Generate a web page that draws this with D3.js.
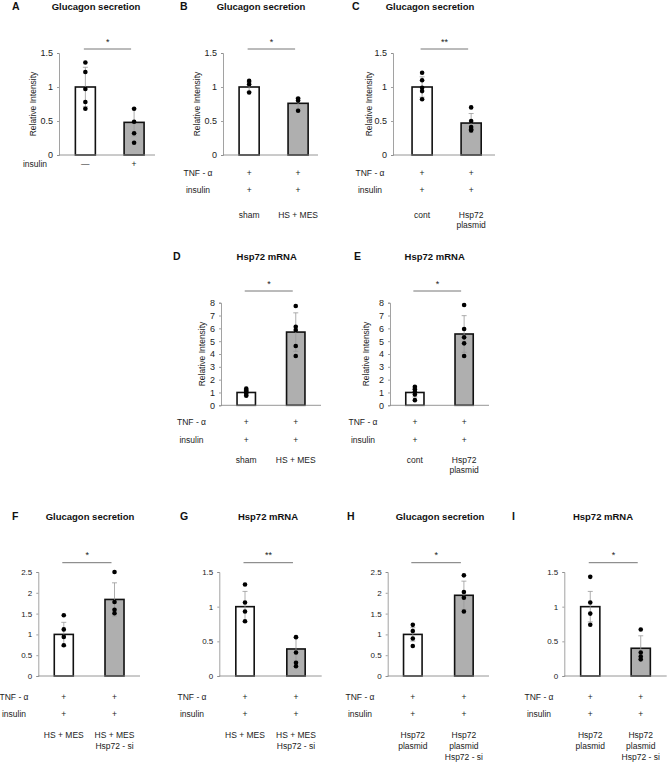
<!DOCTYPE html>
<html>
<head>
<meta charset="utf-8">
<script src="https://cdn.jsdelivr.net/npm/d3@7"></script>
<style>
  body { margin: 0; background: #fff; }
  svg { display: block; font-family: "Liberation Sans", Arial, sans-serif; opacity: 0.999; }
</style>
</head>
<body>
<svg id="fig" width="667" height="762"></svg>
<script>
"use strict";

// ---- data ----
const panelLetters = ["A", "B", "C", "D", "E", "F", "G", "H", "I"];
const panelTitles = ["Glucagon secretion", "Glucagon secretion", "Glucagon secretion",
    "Hsp72 mRNA", "Hsp72 mRNA",
    "Glucagon secretion", "Hsp72 mRNA", "Glucagon secretion", "Hsp72 mRNA"];

const barMeans = [[1.0, 0.48], [1.0, 0.76], [1.0, 0.47], [1.0, 5.71], [1.0, 5.56],
    [1.0, 1.84], [1.0, 0.39], [1.0, 1.94], [1.0, 0.40]];
const barSds = [[0.29, 0.2], [0.07, 0.08], [0.15, 0.14], [0.25, 1.5], [0.35, 1.43],
    [0.29, 0.40], [0.22, 0.17], [0.16, 0.34], [0.22, 0.18]];
const dotValues = [
    [[1.36, 1.22, 0.97, 0.78, 0.68], [0.68, 0.49, 0.32, 0.18]],
    [[1.09, 1.04, 0.92], [0.83, 0.80, 0.65]],
    [[1.21, 1.10, 0.99, 0.94, 0.82], [0.70, 0.50, 0.41, 0.38, 0.36]],
    [[1.3, 1.15, 1.05, 0.9, 0.75], [7.74, 6.13, 5.87, 4.62, 3.84]],
    [[1.45, 1.25, 1.05, 0.85, 0.4], [7.82, 5.95, 5.30, 4.83, 3.84]],
    [[1.46, 1.12, 0.94, 0.74], [2.50, 1.78, 1.59, 1.51]],
    [[1.32, 1.06, 0.93, 0.79], [0.56, 0.34, 0.19, 0.14]],
    [[1.23, 1.08, 0.90, 0.72], [2.42, 2.02, 1.88, 1.55]],
    [[1.43, 1.06, 0.90, 0.74], [0.67, 0.34, 0.28, 0.24]]
];

const ticks15 = [0, 0.5, 1, 1.5];
const ticks8 = [0, 1, 2, 3, 4, 5, 6, 7, 8];
const ticks25 = [0, 0.5, 1, 1.5, 2, 2.5];
const panelTicks = [ticks15, ticks15, ticks15, ticks8, ticks8, ticks25, ticks15, ticks25, ticks15];

const sigMarks = ["*", "*", "**", "*", "*", "*", "**", "*", "*"];
const yLabels = ["Relative Intensity", "Relative Intensity", "Relative Intensity",
    "Relative Intensity", "Relative Intensity", "", "", "", ""];

const treatRows = [["insulin"]].concat(d3.range(8).map(() => ["TNF - α", "insulin"]));
const treatSigns = [[["—", "+"]]].concat(d3.range(8).map(() => [["+", "+"], ["+", "+"]]));
const groupLabels = [
    [[], []],
    [["sham"], ["HS + MES"]],
    [["cont"], ["Hsp72", "plasmid"]],
    [["sham"], ["HS + MES"]],
    [["cont"], ["Hsp72", "plasmid"]],
    [["HS + MES"], ["HS + MES", "Hsp72 - si"]],
    [["HS + MES"], ["HS + MES", "Hsp72 - si"]],
    [["Hsp72", "plasmid"], ["Hsp72", "plasmid", "Hsp72 - si"]],
    [["Hsp72", "plasmid"], ["Hsp72", "plasmid", "Hsp72 - si"]]
];

// ---- layout of each panel ----
const top1 = {y0: 155, y1: 53, titleY: 9.5, rowY: [173, 190], groupY: 215, gap: 10, tickFs: 9, sigY: 49};
const mid1 = {y0: 405.3, y1: 302.7, titleY: 259.5, rowY: [422.5, 440], groupY: 460, gap: 10.5, tickFs: 9, sigY: 291};
const bot1 = {y0: 676, y1: 572, titleY: 519.5, rowY: [696.7, 714], groupY: 735, gap: 11, tickFs: 8, sigY: 562.7};

const frames = [
    Object.assign({}, top1, {ax: 59, ex: 155, pi: 0.59, po: 0.28, al: 0.6, letterX: 12, titleX: 96, ylabX: 33, rowX: 35, rowY: [164]}),
    Object.assign({}, top1, {ax: 223, ex: 318, pi: 0.59, po: 0.265, al: 0.62, letterX: 180, titleX: 261, ylabX: 197, rowX: 198}),
    Object.assign({}, top1, {ax: 393, ex: 495, pi: 0.59, po: 0.335, al: 0.58, letterX: 352, titleX: 430, ylabX: 369, rowX: 370}),
    Object.assign({}, mid1, {ax: 221, ex: 321, pi: 0.628, po: 0.324, al: 0.5, letterX: 173, titleX: 266.7, ylabX: 201.7, rowX: 191.5}),
    Object.assign({}, mid1, {ax: 390, ex: 489, pi: 0.63, po: 0.32, al: 0.5, letterX: 354, titleX: 434.7, ylabX: 365.7, rowX: 363}),
    Object.assign({}, bot1, {ax: 38.3, ex: 140, pi: 0.625, po: 0.315, al: 0.5, letterX: 12, titleX: 90, rowX: 14}),
    Object.assign({}, bot1, {ax: 219.3, ex: 321.7, pi: 0.64, po: 0.324, al: 0.5, letterX: 180, titleX: 268, rowX: 192}),
    Object.assign({}, bot1, {ax: 387.7, ex: 489, pi: 0.637, po: 0.31, al: 0.5, letterX: 347, titleX: 440, rowX: 360}),
    Object.assign({}, bot1, {ax: 564.3, ex: 666.7, pi: 0.62, po: 0.324, al: 0.5, letterX: 512, titleX: 603, rowX: 539})
];

const svg = d3.select("#fig");
const ink = "#111";
const axisGray = "#8a8a8a";

function drawPanel(i) {
    let f = frames[i];
    let g = svg.append("g").attr("class", "panel");

    let x = d3.scaleBand().domain([0, 1]).range([f.ax, f.ex])
        .paddingInner(f.pi).paddingOuter(f.po).align(f.al);
    let y = d3.scaleLinear().domain([0, d3.max(panelTicks[i])]).range([f.y0, f.y1]);
    let cx = k => x(k) + x.bandwidth() / 2;

    // letter and title
    g.append("text").attr("x", f.letterX).attr("y", f.titleY)
        .attr("font-size", 10.5).attr("font-weight", "bold").attr("fill", ink)
        .text(panelLetters[i]);
    g.append("text").attr("x", f.titleX).attr("y", f.titleY)
        .attr("text-anchor", "middle").attr("font-size", 9.5).attr("font-weight", "bold").attr("fill", ink)
        .text(panelTitles[i]);

    // y axis
    let yAxis = d3.axisLeft(y).tickValues(panelTicks[i]).tickFormat(d => String(d))
        .tickSize(2).tickSizeOuter(2).tickPadding(4);
    let ag = g.append("g").attr("transform", `translate(${f.ax},0)`).call(yAxis);
    ag.attr("font-family", null).attr("font-size", f.tickFs);
    ag.selectAll("path, line").attr("stroke", axisGray).attr("stroke-width", 0.8);
    ag.selectAll("text").attr("fill", "#222");

    if (yLabels[i]) {
        g.append("text")
            .attr("transform", `translate(${f.ylabX},${(f.y0 + f.y1) / 2}) rotate(-90)`)
            .attr("text-anchor", "middle").attr("dy", "0.35em")
            .attr("font-size", 8.5).attr("fill", "#222")
            .text(yLabels[i]);
    }

    // bars
    g.selectAll("rect.bar").data(barMeans[i]).join("rect")
        .attr("class", "bar")
        .attr("x", (d, k) => x(k))
        .attr("y", d => y(d))
        .attr("width", x.bandwidth())
        .attr("height", d => y(0) - y(d))
        .attr("fill", (d, k) => k === 0 ? "#fff" : "#afafaf")
        .attr("stroke", ink).attr("stroke-width", 1.6);

    // baseline
    g.append("line").attr("x1", f.ax).attr("x2", f.ex).attr("y1", y(0)).attr("y2", y(0))
        .attr("stroke", axisGray).attr("stroke-width", 0.9);

    // error bars
    barMeans[i].forEach((m, k) => {
        let sd = barSds[i][k];
        let c = cx(k);
        let eg = g.append("g").attr("stroke", "#999").attr("stroke-width", 0.8);
        eg.append("line").attr("x1", c).attr("x2", c).attr("y1", y(m - sd)).attr("y2", y(m + sd));
        [m - sd, m + sd].forEach(v => {
            eg.append("line").attr("x1", c - 2.5).attr("x2", c + 2.5).attr("y1", y(v)).attr("y2", y(v));
        });
    });

    // individual points
    dotValues[i].forEach((vals, k) => {
        g.selectAll(null).data(vals).join("circle")
            .attr("cx", cx(k)).attr("cy", d => y(d)).attr("r", 2.3).attr("fill", "#000");
    });

    // significance
    g.append("line").attr("x1", cx(0) - 1.5).attr("x2", cx(1) - 3).attr("y1", f.sigY).attr("y2", f.sigY)
        .attr("stroke", "#666").attr("stroke-width", 0.9);
    g.append("text").attr("x", (cx(0) + cx(1)) / 2 - 2).attr("y", f.sigY - 4.5)
        .attr("text-anchor", "middle").attr("font-size", 9).attr("fill", "#222")
        .text(sigMarks[i]);

    // treatment rows
    treatRows[i].forEach((lab, r) => {
        let ry = f.rowY[r];
        g.append("text").attr("x", f.rowX).attr("y", ry).attr("dy", "0.35em")
            .attr("text-anchor", "middle").attr("font-size", 8.5).attr("fill", "#222").text(lab);
        treatSigns[i][r].forEach((s, k) => {
            g.append("text").attr("x", cx(k)).attr("y", ry).attr("dy", "0.35em")
                .attr("text-anchor", "middle").attr("font-size", 8.5).attr("fill", "#222").text(s);
        });
    });

    // group names under the rows
    groupLabels[i].forEach((lines, k) => {
        let t = g.append("text").attr("text-anchor", "middle").attr("font-size", 8.5).attr("fill", "#222");
        lines.forEach((ln, j) => {
            t.append("tspan").attr("x", cx(k)).attr("y", f.groupY + j * f.gap).attr("dy", "0.35em").text(ln);
        });
    });
}

panelLetters.forEach((p, i) => drawPanel(i));
</script>
</body>
</html>
